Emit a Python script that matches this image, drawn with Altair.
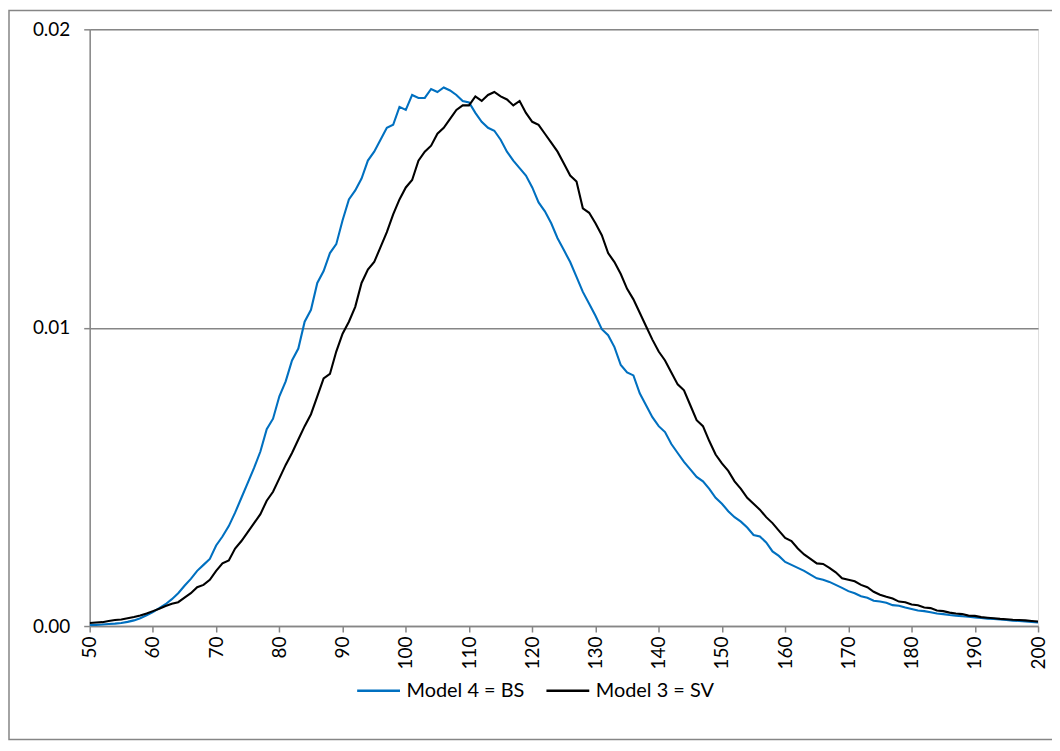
import altair as alt
import pandas as pd

# x positions (categories of the series)
x_vals = list(range(50, 201))

# Model 4 = BS  (values in units of 0.001)
bs = [
    0.03, 0.04, 0.05, 0.07, 0.08, 0.10, 0.14, 0.19, 0.26, 0.36,   # 50-59
    0.47, 0.60, 0.73, 0.90, 1.10, 1.35, 1.58, 1.85, 2.05, 2.25,   # 60-69
    2.70, 3.00, 3.35, 3.80, 4.30, 4.80, 5.30, 5.85, 6.60, 6.95,   # 70-79
    7.70, 8.20, 8.90, 9.30, 10.20, 10.60, 11.50, 11.90, 12.50, 12.80,  # 80-89
    13.60, 14.30, 14.60, 15.00, 15.60, 15.90, 16.30, 16.70, 16.80, 17.40,  # 90-99
    17.30, 17.80, 17.70, 17.70, 18.00, 17.90, 18.05, 17.95, 17.80, 17.60,  # 100-109
    17.55, 17.20, 16.90, 16.70, 16.60, 16.30, 15.90, 15.60, 15.35, 15.10,  # 110-119
    14.70, 14.20, 13.90, 13.50, 13.00, 12.60, 12.20, 11.70, 11.20, 10.80,  # 120-129
    10.40, 9.95, 9.75, 9.35, 8.75, 8.50, 8.40, 7.80, 7.40, 7.00,   # 130-139
    6.70, 6.50, 6.10, 5.80, 5.50, 5.25, 5.00, 4.85, 4.60, 4.30,    # 140-149
    4.10, 3.85, 3.65, 3.50, 3.30, 3.05, 3.00, 2.80, 2.50, 2.35,    # 150-159
    2.15, 2.05, 1.95, 1.85, 1.72, 1.60, 1.55, 1.48, 1.38, 1.28,    # 160-169
    1.17, 1.10, 1.00, 0.95, 0.85, 0.82, 0.78, 0.70, 0.68, 0.62,    # 170-179
    0.57, 0.52, 0.50, 0.46, 0.42, 0.40, 0.37, 0.35, 0.33, 0.31,    # 180-189
    0.29, 0.27, 0.25, 0.24, 0.22, 0.20, 0.18, 0.17, 0.15, 0.14,    # 190-199
    0.12,                                                          # 200
]

# Model 3 = SV  (values in units of 0.001)
sv = [
    0.10, 0.12, 0.13, 0.17, 0.20, 0.22, 0.26, 0.30, 0.35, 0.42,   # 50-59
    0.50, 0.58, 0.67, 0.75, 0.80, 0.95, 1.10, 1.30, 1.38, 1.55,   # 60-69
    1.85, 2.10, 2.20, 2.60, 2.85, 3.15, 3.45, 3.75, 4.20, 4.50,   # 70-79
    4.95, 5.40, 5.80, 6.25, 6.70, 7.10, 7.70, 8.30, 8.45, 9.20,   # 80-89
    9.80, 10.20, 10.70, 11.50, 11.95, 12.20, 12.70, 13.20, 13.80, 14.30,  # 90-99
    14.70, 14.95, 15.60, 15.90, 16.10, 16.50, 16.70, 17.00, 17.30, 17.45,  # 100-109
    17.45, 17.75, 17.60, 17.80, 17.90, 17.75, 17.65, 17.45, 17.60, 17.20,  # 110-119
    16.90, 16.80, 16.50, 16.20, 15.90, 15.50, 15.10, 14.90, 14.00, 13.85,  # 120-129
    13.50, 13.10, 12.50, 12.20, 11.80, 11.30, 10.95, 10.50, 10.05, 9.60,   # 130-139
    9.20, 8.90, 8.50, 8.10, 7.90, 7.40, 6.90, 6.70, 6.20, 5.75,    # 140-149
    5.45, 5.20, 4.85, 4.60, 4.30, 4.10, 3.90, 3.65, 3.45, 3.20,    # 150-159
    2.95, 2.85, 2.60, 2.40, 2.25, 2.10, 2.08, 1.95, 1.80, 1.60,    # 160-169
    1.55, 1.50, 1.38, 1.30, 1.15, 1.05, 0.98, 0.92, 0.82, 0.80,    # 170-179
    0.72, 0.70, 0.62, 0.60, 0.52, 0.50, 0.45, 0.42, 0.40, 0.35,    # 180-189
    0.34, 0.30, 0.28, 0.26, 0.24, 0.23, 0.21, 0.20, 0.19, 0.17,    # 190-199
    0.15,                                                          # 200
]

series_names = ["Model 4 = BS", "Model 3 = SV"]
series_colors = ["#0070C0", "#000000"]
x_ticks = list(range(50, 201, 10))
y_ticks = [0.0, 0.01, 0.02]

rows = []
for name, vals in zip(series_names, [bs, sv]):
    for xv, v in zip(x_vals, vals):
        rows.append({"x": xv, "y": v / 1000.0, "series": name})
df = pd.DataFrame(rows)

FONT = "Lato"
GRAY = "#868686"

lines = alt.Chart(df).mark_line(strokeWidth=2.1, clip=True).encode(
    x=alt.X(
        "x:Q",
        scale=alt.Scale(domain=[50, 200], nice=False, zero=False),
        axis=alt.Axis(
            values=x_ticks, title=None, labelAngle=270, grid=False,
            domainColor=GRAY, domainWidth=1.5, tickColor=GRAY, tickWidth=1.5,
            tickSize=6, labelFont=FONT, labelFontSize=19, labelColor="#000000",
            labelPadding=4, labelFlush=False, labelOverlap=False,
        ),
    ),
    y=alt.Y(
        "y:Q",
        scale=alt.Scale(domain=[0, 0.02], nice=False),
        axis=alt.Axis(
            values=y_ticks, format=".2f", title=None, grid=True,
            gridColor=GRAY, gridWidth=1.5, domainColor=GRAY, domainWidth=1.5,
            tickColor=GRAY, tickWidth=1.5, tickSize=6, labelFont=FONT,
            labelFontSize=19, labelColor="#000000", labelPadding=14,
            labelFlush=False, labelOverlap=False,
        ),
    ),
    color=alt.Color(
        "series:N",
        scale=alt.Scale(domain=series_names, range=series_colors),
        sort=series_names,
        legend=alt.Legend(
            title=None, orient="none", legendX=267, legendY=641,
            direction="horizontal", symbolType="stroke", symbolSize=1849,
            symbolStrokeWidth=2.5, labelFont=FONT, labelFontSize=20,
            labelColor="#000000", columnPadding=16, labelOffset=5,
        ),
    ),
)

frame = alt.Chart(pd.DataFrame({"a": [0]})).mark_rect(
    fill=None, stroke=GRAY, strokeWidth=1.5
).encode(
    x=alt.value(-81), x2=alt.value(1012), y=alt.value(-19), y2=alt.value(713)
)

chart = alt.layer(frame, lines).properties(
    width=952,
    height=599,
    autosize=alt.AutoSizeParams(type="none"),
    padding={"left": 82, "top": 20, "right": 14, "bottom": 116},
).configure_view(stroke=GRAY, strokeWidth=1.5).configure(background="white")

chart.save("out.html", embed_options={"renderer": "svg", "actions": False})
